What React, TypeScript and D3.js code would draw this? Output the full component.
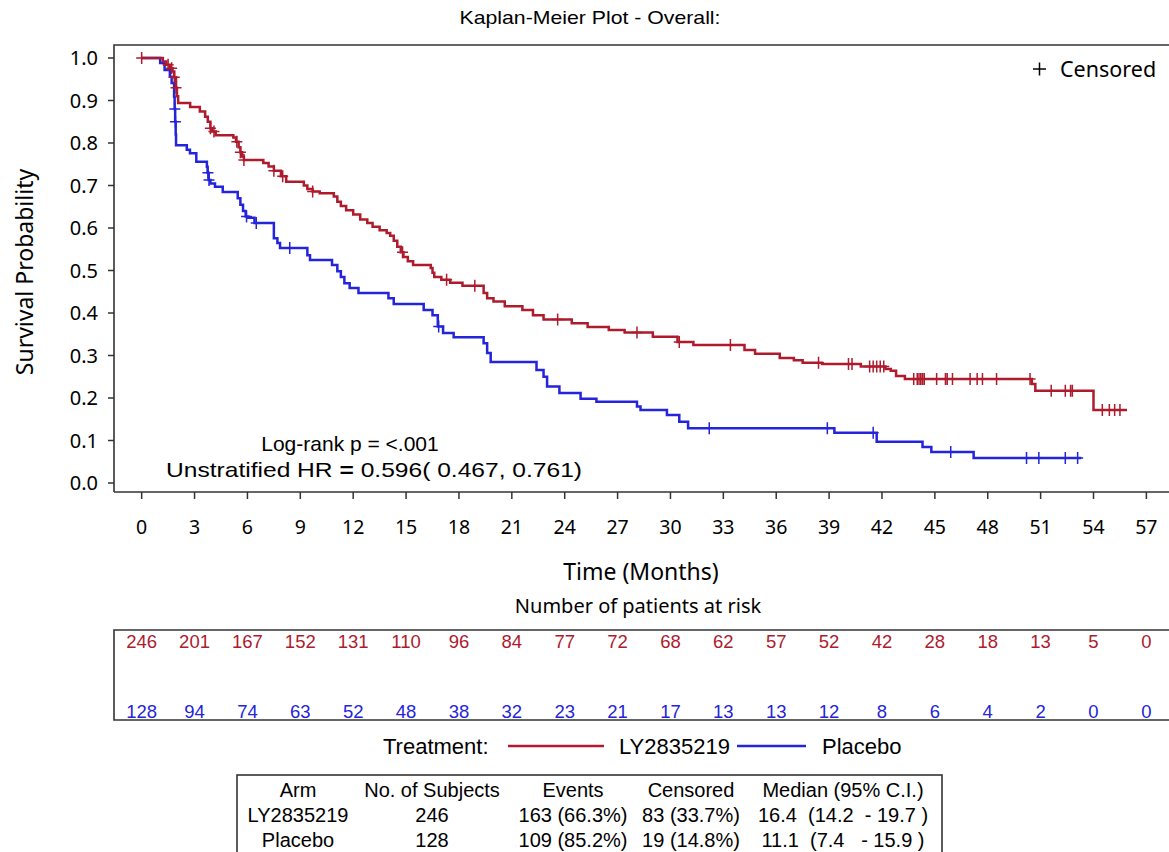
import * as d3 from 'd3';

// Kaplan-Meier steps: [time (months), survival after the step]
const lyCurve: [number, number][] = [
  [0, 1.0], [1.2, 0.992], [1.4, 0.984], [1.6, 0.976], [1.75, 0.968], [1.85, 0.955], [1.95, 0.93],
  [2.0, 0.91], [2.07, 0.894], [2.75, 0.885], [3.3, 0.874], [3.6, 0.862], [3.75, 0.85], [3.9, 0.835],
  [4.0, 0.827], [4.2, 0.818], [5.2, 0.813], [5.35, 0.803], [5.5, 0.79], [5.6, 0.778], [5.7, 0.768],
  [5.8, 0.76], [6.9, 0.753], [7.2, 0.745], [7.5, 0.735], [7.9, 0.722], [8.2, 0.709], [9.2, 0.7],
  [9.4, 0.692], [9.7, 0.686], [10.1, 0.682], [10.9, 0.674], [11.1, 0.662], [11.3, 0.652], [11.6, 0.642],
  [12.0, 0.632], [12.4, 0.62], [12.8, 0.612], [13.1, 0.603], [13.5, 0.595], [13.9, 0.588], [14.1, 0.582],
  [14.3, 0.57], [14.5, 0.556], [14.7, 0.543], [14.85, 0.532], [15.1, 0.522], [15.4, 0.513], [16.4, 0.506],
  [16.5, 0.495], [16.6, 0.485], [17.0, 0.478], [17.5, 0.471], [18.2, 0.464], [19.4, 0.447], [19.6, 0.435],
  [19.96, 0.427], [20.6, 0.416], [21.6, 0.407], [22.2, 0.395], [22.8, 0.385], [24.4, 0.376], [25.3, 0.367],
  [26.5, 0.36], [27.4, 0.354], [29.0, 0.344], [30.4, 0.332], [31.3, 0.325], [34.2, 0.313], [34.8, 0.304],
  [36.2, 0.294], [37.0, 0.289], [37.5, 0.283], [38.6, 0.28], [40.8, 0.274], [42.2, 0.268], [42.5, 0.264],
  [42.8, 0.252], [43.3, 0.245], [50.5, 0.233], [50.7, 0.217], [54.0, 0.172],
];
const lyEnd = 55.9;
const lyCensor = [
  0, 1.5, 1.7, 1.85, 1.95, 3.9, 4.1, 5.4, 5.6, 5.8, 7.5, 8.0, 9.7, 14.8, 17.3, 18.9, 23.6, 28.1, 30.5,
  33.4, 38.4, 40.1, 40.3, 41.3, 41.5, 41.7, 41.9, 42.1, 43.8, 44.0, 44.1, 44.2, 44.3, 44.4, 45.1, 45.6,
  45.7, 46.0, 47.0, 47.4, 47.7, 48.5, 50.4, 51.6, 52.4, 52.7, 52.8, 54.5, 54.9, 55.2, 55.5,
];

const pbCurve: [number, number][] = [
  [0, 1.0], [1.05, 0.988], [1.3, 0.972], [1.6, 0.956], [1.7, 0.941], [1.84, 0.909], [1.87, 0.88],
  [1.9, 0.85], [1.93, 0.82], [1.95, 0.795], [2.56, 0.784], [2.74, 0.776], [3.1, 0.756], [3.7, 0.744],
  [3.74, 0.73], [3.8, 0.713], [3.9, 0.705], [4.16, 0.697], [4.6, 0.685], [5.45, 0.67], [5.6, 0.655],
  [5.75, 0.64], [5.9, 0.627], [6.05, 0.624], [6.4, 0.612], [7.5, 0.576], [7.7, 0.565], [7.85, 0.553],
  [9.4, 0.536], [9.55, 0.525], [10.8, 0.513], [11.1, 0.498], [11.3, 0.485], [11.5, 0.47], [11.8, 0.459],
  [12.3, 0.447], [14.0, 0.435], [14.3, 0.421], [16.0, 0.407], [16.5, 0.395], [16.8, 0.368], [17.1, 0.353],
  [17.7, 0.343], [19.4, 0.329], [19.6, 0.306], [19.8, 0.285], [22.4, 0.266], [22.8, 0.25], [23.0, 0.227],
  [23.7, 0.212], [24.9, 0.198], [25.8, 0.191], [28.1, 0.18], [28.3, 0.172], [29.8, 0.16], [30.5, 0.144],
  [31.0, 0.129], [39.3, 0.118], [41.7, 0.097], [44.3, 0.085], [44.8, 0.073], [47.2, 0.059],
];
const pbEnd = 53.3;
const pbCensor = [1.88, 1.915, 3.76, 3.82, 5.95, 6.5, 8.4, 16.85, 32.2, 38.9, 41.5, 45.9, 50.2, 50.9, 52.4, 53.1];

const xTicks = [0, 3, 6, 9, 12, 15, 18, 21, 24, 27, 30, 33, 36, 39, 42, 45, 48, 51, 54, 57];
const yTicks = [0, 0.1, 0.2, 0.3, 0.4, 0.5, 0.6, 0.7, 0.8, 0.9, 1.0];
const lyRisk = [246, 201, 167, 152, 131, 110, 96, 84, 77, 72, 68, 62, 57, 52, 42, 28, 18, 13, 5, 0];
const pbRisk = [128, 94, 74, 63, 52, 48, 38, 32, 23, 21, 17, 13, 13, 12, 8, 6, 4, 2, 0, 0];

const tableHead = ['Arm', 'No. of Subjects', 'Events', 'Censored', 'Median (95% C.I.)'];
const tableRows = [
  ['LY2835219', '246', '163 (66.3%)', '83 (33.7%)', '16.4  (14.2  - 19.7 )'],
  ['Placebo', '128', '109 (85.2%)', '19 (14.8%)', '11.1  (7.4   - 15.9 )'],
];
const tableCols = [298, 432, 573, 691, 843];

const RED = '#AE1B2D';
const BLUE = '#2424DA';
const SANS = '"Liberation Sans", Arial, sans-serif';
const NOTO = '"Noto Sans", "Open Sans", sans-serif';

function survAt(curve: [number, number][], t: number) {
  let s = 1;
  for (const [tt, v] of curve) if (tt <= t) s = v;
  return s;
}

export default function App() {
  const x = d3.scaleLinear().domain([-1.57, 58.17]).range([114, 1167]);
  const y = d3.scaleLinear().domain([0, 1]).range([483, 58]);
  const line = d3.line<[number, number]>()
    .x(d => x(d[0]))
    .y(d => y(d[1]))
    .curve(d3.curveStepAfter);

  const lyPts: [number, number][] = [...lyCurve, [lyEnd, lyCurve[lyCurve.length - 1][1]]];
  const pbPts: [number, number][] = [...pbCurve, [pbEnd, pbCurve[pbCurve.length - 1][1]]];

  const plus = (t: number, s: number) => {
    const cx = x(t), cy = y(s);
    return `M${cx - 5.5},${cy}h11M${cx},${cy - 6}v12`;
  };

  const top = 45, bottom = 492, left = 114, right = 1169;

  return (
    <svg width={1169} height={852} style={{ position: 'absolute', left: 0, top: 0, background: '#fff' }}>
      <text x={590} y={24} textAnchor="middle" fontFamily={SANS} fontSize={19} fill="#000"
        textLength={261} lengthAdjust="spacingAndGlyphs">
        Kaplan-Meier Plot - Overall:
      </text>

      {/* frame */}
      <path d={`M${left},${bottom}V${top}H${right}`} fill="none" stroke="#333" strokeWidth={1.6} />
      <line x1={left} x2={right} y1={bottom} y2={bottom} stroke="#333" strokeWidth={1.6} />

      {yTicks.map(v => (
        <g key={'y' + v}>
          <line x1={left - 6} x2={left} y1={y(v)} y2={y(v)} stroke="#333" strokeWidth={1.5} />
          <text x={98} y={y(v)} dy="0.36em" textAnchor="end" fontFamily={NOTO} fontSize={20} fill="#000">
            {v.toFixed(1)}
          </text>
        </g>
      ))}
      {xTicks.map(v => (
        <g key={'x' + v}>
          <line x1={x(v)} x2={x(v)} y1={bottom} y2={bottom + 7} stroke="#333" strokeWidth={1.5} />
          <text x={x(v)} y={534} textAnchor="middle" fontFamily={NOTO} fontSize={19.5} fill="#000">
            {v}
          </text>
        </g>
      ))}

      <text transform="translate(33,272) rotate(-90)" textAnchor="middle" fontFamily={NOTO} fontSize={23} fill="#000">
        Survival Probability
      </text>
      <text x={641} y={580} textAnchor="middle" fontFamily={NOTO} fontSize={23} fill="#000">
        Time (Months)
      </text>

      {/* curves */}
      <path d={line(pbPts) || ''} fill="none" stroke={BLUE} strokeWidth={2.5} />
      <path d={pbCensor.map(t => plus(t, survAt(pbCurve, t))).join('')} fill="none" stroke={BLUE} strokeWidth={1.5} />
      <path d={line(lyPts) || ''} fill="none" stroke={RED} strokeWidth={2.5} />
      <path d={lyCensor.map(t => plus(t, survAt(lyCurve, t))).join('')} fill="none" stroke={RED} strokeWidth={1.5} />

      {/* censored legend */}
      <path d="M1033,69h13M1039.5,62.5v13" stroke="#000" strokeWidth={1.5} />
      <text x={1060} y={69} dy="0.36em" fontFamily={NOTO} fontSize={21.5} fill="#000">Censored</text>

      <text x={350} y={443} dy="0.36em" textAnchor="middle" fontFamily={SANS} fontSize={21} fill="#000">
        Log-rank p = &lt;.001
      </text>
      <text x={166} y={469} dy="0.36em" fontFamily={SANS} fontSize={21} fill="#000"
        textLength={416} lengthAdjust="spacingAndGlyphs">
        Unstratified HR <tspan fontWeight="bold">=</tspan> 0.596( 0.467, 0.761)
      </text>

      {/* number at risk */}
      <text x={638} y={606} dy="0.36em" textAnchor="middle" fontFamily={NOTO} fontSize={20} fill="#000">
        Number of patients at risk
      </text>
      <path d={`M${right},630H${left}V720H${right}`} fill="none" stroke="#333" strokeWidth={1.6} />
      {lyRisk.map((n, i) => (
        <text key={'lr' + i} x={x(xTicks[i])} y={641} dy="0.36em" textAnchor="middle" fontFamily={SANS} fontSize={18.5} fill={RED}>
          {n}
        </text>
      ))}
      {pbRisk.map((n, i) => (
        <text key={'pr' + i} x={x(xTicks[i])} y={711} dy="0.36em" textAnchor="middle" fontFamily={SANS} fontSize={18.5} fill={BLUE}>
          {n}
        </text>
      ))}

      {/* treatment legend */}
      <text x={383} y={746} dy="0.36em" fontFamily={SANS} fontSize={22} fill="#000">Treatment:</text>
      <line x1={508} x2={604} y1={746} y2={746} stroke={RED} strokeWidth={2.5} />
      <text x={619} y={746} dy="0.36em" fontFamily={SANS} fontSize={22} fill="#000">LY2835219</text>
      <line x1={737} x2={806} y1={746} y2={746} stroke={BLUE} strokeWidth={2.5} />
      <text x={822} y={746} dy="0.36em" fontFamily={SANS} fontSize={22} fill="#000">Placebo</text>

      {/* summary table */}
      <rect x={237} y={775} width={705} height={90} fill="none" stroke="#333" strokeWidth={1.6} />
      {tableHead.map((h, i) => (
        <text key={'h' + i} x={tableCols[i]} y={790} dy="0.36em" textAnchor="middle" fontFamily={SANS} fontSize={20} fill="#000">
          {h}
        </text>
      ))}
      {tableRows.map((r, j) => r.map((c, i) => (
        <text key={'c' + j + i} x={tableCols[i]} y={815 + j * 24.5} dy="0.36em" textAnchor="middle" fontFamily={SANS}
          fontSize={20} fill="#000" style={{ whiteSpace: 'pre' }}>
          {c}
        </text>
      )))}
    </svg>
  );
}
